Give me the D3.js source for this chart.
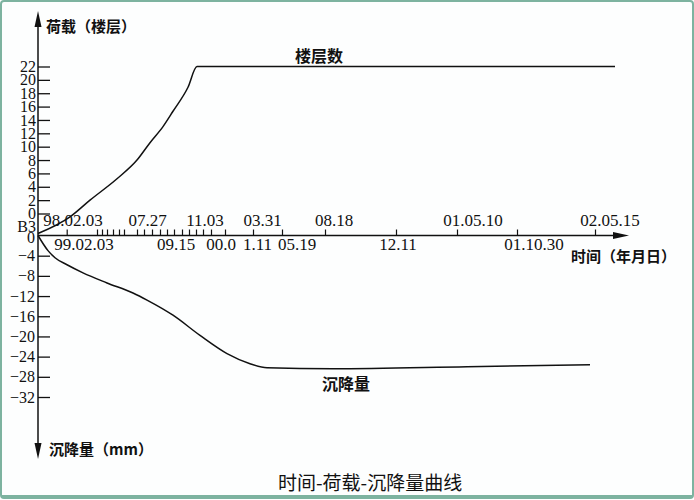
<!DOCTYPE html>
<html>
<head>
<meta charset="utf-8">
<script src="https://cdn.jsdelivr.net/npm/d3@7/dist/d3.min.js"></script>
<style>
  html, body { margin: 0; padding: 0; background: #fff; }
  svg { display: block; }
  .num { font-family: "Liberation Serif", "Times New Roman", "DejaVu Serif", serif; font-size: 17px; fill: #111; }
  .ynum { font-size: 16px; }
  .cjk { font-family: "Noto Sans CJK SC", sans-serif; font-weight: bold; fill: #111; }
</style>
</head>
<body>
<svg id="chart" width="694" height="500"></svg>
<script>
// ---- data (x in schematic axis units along the time axis) ----
const loadTickValues = [0, 2, 4, 6, 8, 10, 12, 14, 16, 18, 20, 22];
const settleTickValues = [0, -4, -8, -12, -16, -20, -24, -28, -32];
const basementLabel = "B3";
const basementLevel = -3;

const timeTicks = [2.87, 5.9, 6.4, 6.9, 7.5, 8.1, 8.6, 9.9, 10.6, 11.4, 12.2, 12.9, 13.6,
                   14.4, 15.1, 15.8, 16.5, 17.3, 18.7, 21.5, 24.4, 28.7, 35.8, 41.9, 47.9, 55.7];
const topDateLabels = ["98.02.03", "07.27", "11.03", "03.31", "08.18", "01.05.10", "02.05.15"];
const topDatePos    = [3.5, 10.95, 16.7, 22.45, 29.6, 43.5, 57.2];
const bottomDateLabels = ["99.02.03", "09.15", "00.0", "1.11", "05.19", "12.11", "01.10.30"];
const bottomDatePos    = [4.6, 13.8, 18.3, 21.95, 25.9, 36.0, 49.6];

// load curve (floors)
const loadX = [0, 3.2, 5.2, 7.9, 9.9, 11.2, 12.5, 13.5, 15.0, 15.9, 57.7];
const loadY = [-3, -0.5, 2.0, 5.2, 8.0, 10.6, 13.0, 15.3, 18.9, 22, 22];
// settlement curve (mm)
const settleX = [0, 1.0, 1.7, 2.9, 4.5, 6.9, 9.5, 10.9, 13.5, 16.2, 18.9, 21.2, 22.9, 29.5, 42.9, 55.2];
const settleY = [0, -3.0, -4.4, -5.8, -7.4, -9.4, -11.4, -12.8, -15.8, -19.8, -23.4, -25.4, -26.2, -26.4, -26.0, -25.6];

// ---- drawing ----
const svg = d3.select("#chart");

// frame
svg.append("rect").attr("x", 1).attr("y", 1).attr("width", 692).attr("height", 497)
  .attr("rx", 3).attr("fill", "#fdfefe").attr("stroke", "#7db3a0").attr("stroke-width", 2);

const x = d3.scaleLinear().domain([0, 59]).range([38, 628]);
const yLoad = d3.scaleLinear().domain([0, 22]).range([213.5, 66.5]);
const ySettle = d3.scaleLinear().domain([0, -32]).range([235.5, 397]);
const axisY = ySettle(0);
const axisX = x(0);

// vertical axis with arrows
svg.append("line").attr("x1", axisX).attr("x2", axisX).attr("y1", 22).attr("y2", 448)
  .attr("stroke", "#111").attr("stroke-width", 1.5);
svg.append("path").attr("d", `M${axisX},11 L${axisX - 3.5},27 L${axisX + 3.5},27 Z`).attr("fill", "#111");
svg.append("path").attr("d", `M${axisX},459 L${axisX - 3.5},443 L${axisX + 3.5},443 Z`).attr("fill", "#111");

// horizontal axis with arrow
svg.append("line").attr("x1", axisX).attr("x2", 618).attr("y1", axisY).attr("y2", axisY)
  .attr("stroke", "#111").attr("stroke-width", 1.5);
svg.append("path").attr("d", `M629,${axisY} L613,${axisY - 3.5} L613,${axisY + 3.5} Z`).attr("fill", "#111");

// load axis ticks (to the right of the axis)
const gLoad = svg.append("g").attr("transform", `translate(${axisX},0)`)
  .call(d3.axisRight(yLoad).tickValues(loadTickValues).tickSize(12).tickFormat(""));
gLoad.select(".domain").remove();
gLoad.selectAll(".tick line").attr("stroke", "#111").attr("stroke-width", 1.3);
svg.append("g").selectAll("text").data(loadTickValues).join("text")
  .attr("class", "num ynum").attr("x", 36).attr("y", d => yLoad(d)).attr("dy", "0.35em")
  .attr("text-anchor", "end").text(d => d);
svg.append("text").attr("class", "num ynum").attr("x", 36).attr("y", yLoad(basementLevel + 1))
  .attr("dy", "0.35em").attr("text-anchor", "end").text(basementLabel);

// settlement axis ticks
const settleTicksNonZero = settleTickValues.filter(d => d !== 0);
const gSet = svg.append("g").attr("transform", `translate(${axisX},0)`)
  .call(d3.axisRight(ySettle).tickValues(settleTicksNonZero).tickSize(12).tickFormat(""));
gSet.select(".domain").remove();
gSet.selectAll(".tick line").attr("stroke", "#111").attr("stroke-width", 1.3);
svg.append("g").selectAll("text").data(settleTickValues).join("text")
  .attr("class", "num ynum").attr("x", 35).attr("y", d => ySettle(d) + (d === 0 ? 2 : 0)).attr("dy", "0.35em")
  .attr("text-anchor", "end").text(d => d === 0 ? "0" : "\u2212" + Math.abs(d));

// time axis ticks (upwards)
const gTime = svg.append("g").attr("transform", `translate(0,${axisY})`)
  .call(d3.axisTop(x).tickValues(timeTicks).tickSize(6).tickFormat(""));
gTime.select(".domain").remove();
gTime.selectAll(".tick line").attr("stroke", "#111").attr("stroke-width", 1.2);

svg.append("g").selectAll("text").data(topDateLabels).join("text")
  .attr("class", "num").attr("x", (d, i) => x(topDatePos[i])).attr("y", axisY - 10)
  .attr("text-anchor", "middle").text(d => d);
svg.append("g").selectAll("text").data(bottomDateLabels).join("text")
  .attr("class", "num").attr("x", (d, i) => x(bottomDatePos[i])).attr("y", axisY + 14)
  .attr("text-anchor", "middle").text(d => d);

// curves
const loadPts = loadX.map((v, i) => [x(v), yLoad(loadY[i])]);
const settlePts = settleX.map((v, i) => [x(v), ySettle(settleY[i])]);
const line = d3.line().curve(d3.curveMonotoneX);
svg.append("path").attr("d", line(loadPts)).attr("fill", "none").attr("stroke", "#111").attr("stroke-width", 1.5);
svg.append("path").attr("d", line(settlePts)).attr("fill", "none").attr("stroke", "#111").attr("stroke-width", 1.5);

// texts
svg.append("text").attr("class", "cjk").attr("x", 46).attr("y", 32).style("font-size", "15px").text("荷载（楼层）");
svg.append("text").attr("class", "cjk").attr("x", 49).attr("y", 455).style("font-size", "15px").text("沉降量（mm）");
svg.append("text").attr("class", "cjk").attr("x", 571).attr("y", 262).style("font-size", "15px").text("时间（年月日）");
svg.append("text").attr("class", "cjk").attr("x", 295).attr("y", 62).style("font-size", "16px").text("楼层数");
svg.append("text").attr("class", "cjk").attr("x", 322).attr("y", 390).style("font-size", "16px").text("沉降量");
svg.append("text").attr("class", "cjk").attr("x", 278).attr("y", 490).style("font-size", "19px")
  .style("font-weight", "normal").text("时间-荷载-沉降量曲线");
svg.append("line").attr("x1", 2).attr("x2", 692).attr("y1", 496).attr("y2", 496)
  .attr("stroke", "#7db3a0").attr("stroke-width", 2);
</script>
</body>
</html>
